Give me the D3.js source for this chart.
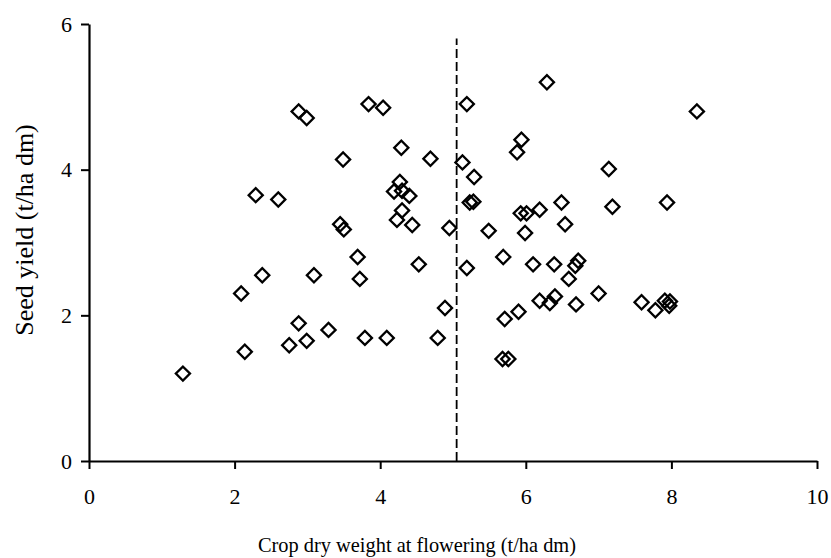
<!DOCTYPE html>
<html>
<head>
<meta charset="utf-8">
<script src="https://cdn.jsdelivr.net/npm/d3@7"></script>
<style>
  html, body { margin: 0; padding: 0; background: #fff; }
  svg { display: block; }
  text { font-family: "Liberation Serif", "Times New Roman", serif; fill: #000; }
</style>
</head>
<body>
<svg id="chart" width="831" height="558"></svg>
<script>
// Crop dry weight at flowering (t/ha dm)
const dryWeight = [
  1.29, 2.09, 2.14, 2.29, 2.38, 2.60, 2.75, 2.88, 2.88, 2.99,
  2.99, 3.09, 3.29, 3.45, 3.50, 3.49, 3.69, 3.72, 3.79, 3.84,
  4.04, 4.09, 4.19, 4.23, 4.27, 4.29, 4.30, 4.30, 4.40, 4.44,
  4.53, 4.69, 4.79, 4.89, 4.95, 5.13, 5.19, 5.19, 5.23, 5.28,
  5.29, 5.49, 5.68, 5.69, 5.71, 5.76, 5.88, 5.90, 5.93, 5.94,
  5.99, 6.01, 6.10, 6.19, 6.19, 6.29, 6.33, 6.39, 6.40, 6.49,
  6.54, 6.59, 6.68, 6.69, 6.72, 7.00, 7.14, 7.19, 7.59, 7.78,
  7.91, 7.94, 7.97, 7.98, 8.35
];
// Seed yield (t/ha dm)
const seedYield = [
  1.20, 2.30, 1.50, 3.65, 2.55, 3.59, 1.59, 1.89, 4.80, 4.71,
  1.65, 2.55, 1.80, 3.25, 3.18, 4.14, 2.80, 2.50, 1.69, 4.90,
  4.85, 1.69, 3.70, 3.31, 3.83, 4.30, 3.71, 3.44, 3.64, 3.24,
  2.70, 4.15, 1.69, 2.10, 3.20, 4.10, 4.90, 2.65, 3.55, 3.56,
  3.90, 3.16, 1.40, 2.80, 1.95, 1.40, 4.24, 2.05, 3.40, 4.41,
  3.13, 3.40, 2.70, 3.45, 2.20, 5.20, 2.17, 2.70, 2.26, 3.55,
  3.25, 2.50, 2.68, 2.15, 2.75, 2.30, 4.01, 3.49, 2.18, 2.07,
  2.20, 3.55, 2.13, 2.19, 4.80
];
const xTicks = [0, 2, 4, 6, 8, 10];
const yTicks = [0, 2, 4, 6];
const threshold = 5.05;      // dashed divider on the dry-weight axis
const thresholdTop = 5.8;    // height the divider reaches

const svg = d3.select("#chart");
const x = d3.scaleLinear().domain([0, 10]).range([89, 817]);
const y = d3.scaleLinear().domain([0, 6]).range([461, 24]);
const fmt = d3.format("d");
const serif = "'Liberation Serif', 'Times New Roman', serif";

// Axes
const xAxis = svg.append("g")
  .attr("transform", `translate(0,${y(0)})`)
  .call(d3.axisBottom(x).tickValues(xTicks).tickFormat(fmt)
    .tickSize(8).tickPadding(19).tickSizeOuter(0));
const yAxis = svg.append("g")
  .attr("transform", `translate(${x(0)},0)`)
  .call(d3.axisLeft(y).tickValues(yTicks).tickFormat(fmt)
    .tickSize(8).tickPadding(9).tickSizeOuter(0));

[xAxis, yAxis].forEach(g => {
  g.attr("font-family", null).attr("font-size", null);
  g.select(".domain").attr("stroke", "#000").attr("stroke-width", 2.2);
  g.selectAll(".tick line").attr("stroke", "#000").attr("stroke-width", 2);
  g.selectAll(".tick text")
    .style("font-family", serif)
    .style("font-size", "22px")
    .attr("fill", "#000");
});

// Dashed divider
svg.append("line")
  .attr("x1", x(threshold)).attr("x2", x(threshold))
  .attr("y1", y(0)).attr("y2", y(thresholdTop))
  .attr("stroke", "#000").attr("stroke-width", 1.8)
  .attr("stroke-dasharray", "9,4");

// Diamond markers
const diamond = d3.symbol().type(d3.symbolSquare).size(100);
const pts = dryWeight.map((d, i) => ({ x: d, y: seedYield[i] }));
svg.append("g").selectAll("path")
  .data(pts)
  .join("path")
  .attr("d", diamond)
  .attr("transform", d => `translate(${x(d.x)},${y(d.y)}) rotate(45)`)
  .attr("fill", "none")
  .attr("stroke", "#000")
  .attr("stroke-width", 2.3);

// Axis titles
svg.append("text")
  .attr("x", 417)
  .attr("y", 552)
  .attr("text-anchor", "middle")
  .style("font-family", serif)
  .style("font-size", "22px")
  .attr("textLength", 318)
  .attr("lengthAdjust", "spacingAndGlyphs")
  .text("Crop dry weight at flowering (t/ha dm)");

svg.append("text")
  .attr("transform", `translate(33,230) rotate(-90)`)
  .attr("text-anchor", "middle")
  .style("font-family", serif)
  .style("font-size", "26px")
  .text("Seed yield (t/ha dm)");
</script>
</body>
</html>
